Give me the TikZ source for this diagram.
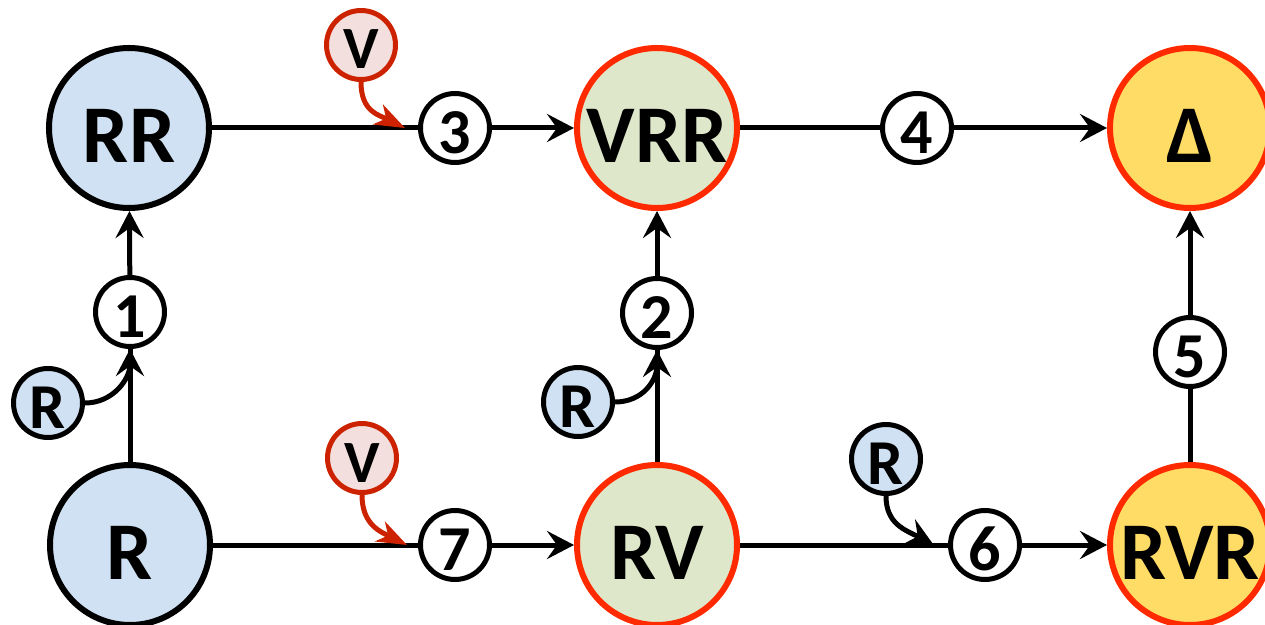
\documentclass[tikz,border=0pt]{standalone}
\usepackage{fontspec}
\setmainfont{Carlito}
\usetikzlibrary{arrows.meta}
\definecolor{bluef}{HTML}{CFE1F3}
\definecolor{greenf}{HTML}{DEE7C9}
\definecolor{yellowf}{HTML}{FEDC66}
\definecolor{pinkf}{HTML}{F3E0DE}
\definecolor{bigred}{HTML}{FF2A00}
\definecolor{vred}{HTML}{CC2200}
\begin{document}
\begin{tikzpicture}[x=1pt,y=1pt,
  big/.style={circle,minimum size=160pt,inner sep=0pt,line width=6pt,
    font=\fontsize{82}{82}\selectfont\bfseries,text height=69pt,text depth=0pt},
  bluebig/.style={big,draw=black,fill=bluef},
  greenbig/.style={big,draw=bigred,fill=greenf},
  yellowbig/.style={big,draw=bigred,fill=yellowf},
  small/.style={circle,minimum size=69pt,inner sep=0pt,line width=5pt,
    font=\fontsize{64}{64}\selectfont\bfseries,text height=51pt,text depth=0pt},
  numc/.style={small,draw=black,fill=white},
  rsmall/.style={small,draw=black,fill=bluef},
  vsmall/.style={small,draw=vred,fill=pinkf,font=\fontsize{60}{60}\selectfont\bfseries,text height=48pt},
  conn/.style={line width=5pt,draw=black},
  arr/.style={-{Stealth[length=27pt,width=28pt,inset=10pt]}},
  varr/.style={line width=5pt,draw=vred,-{Stealth[length=30pt,width=22pt,inset=9pt]}}
]
\useasboundingbox (0,0) rectangle (1265,624);
% big nodes
\node[bluebig] (RR) at (129,496) {RR};
\node[greenbig] (VRR) at (657,496) {VRR};
\node[yellowbig] (D) at (1190,496) {Δ};
\node[bluebig] (R) at (130,79) {R};
\node[greenbig] (RV) at (657,79) {RV};
\node[yellowbig] (RVR) at (1190,79) {RVR};
% numbered nodes
\node[numc] (n1) at (130,312) {1};
\node[numc] (n2) at (657,311) {2};
\node[numc] (n3) at (455,496) {3};
\node[numc] (n4) at (917,496) {4};
\node[numc] (n5) at (1190,272) {5};
\node[numc] (n6) at (985,79) {6};
\node[numc] (n7) at (455,79) {7};
% reagent nodes
\node[rsmall] (r1) at (48,221) {R};
\node[rsmall] (r2) at (578,222) {R};
\node[rsmall] (r3) at (886,165) {R};
\node[vsmall] (v1) at (361,579) {V};
\node[vsmall] (v2) at (362,166) {V};
% free ends
\coordinate (t3) at (405,496);
\coordinate (t7) at (407,79);
\coordinate (t6) at (933,80);
% connectors
\draw[conn] (R) -- (n1);
\draw[conn,arr] (r1.east) .. controls +(28,0) and +(0,-30) .. (n1.south);
\draw[conn,arr] (n1) -- (RR);
\draw[conn] (RR) -- (n3);
\draw[varr] (v1.south) .. controls +(0,-30) and +(-26,13) .. (t3);
\draw[conn,arr] (n3) -- (VRR);
\draw[conn] (VRR) -- (n4);
\draw[conn,arr] (n4) -- (D);
\draw[conn] (RV) -- (n2);
\draw[conn,arr] (r2.east) .. controls +(28,0) and +(0,-30) .. (n2.south);
\draw[conn,arr] (n2) -- (VRR);
\draw[conn] (R) -- (n7);
\draw[varr] (v2.south) .. controls +(0,-30) and +(-26,13) .. (t7);
\draw[conn,arr] (n7) -- (RV);
\draw[conn] (RV) -- (n6);
\draw[conn,arr] (r3.south) .. controls +(0,-28) and +(-28,14) .. (t6);
\draw[conn,arr] (n6) -- (RVR);
\draw[conn] (RVR) -- (n5);
\draw[conn,arr] (n5) -- (D);
\end{tikzpicture}
\end{document}
